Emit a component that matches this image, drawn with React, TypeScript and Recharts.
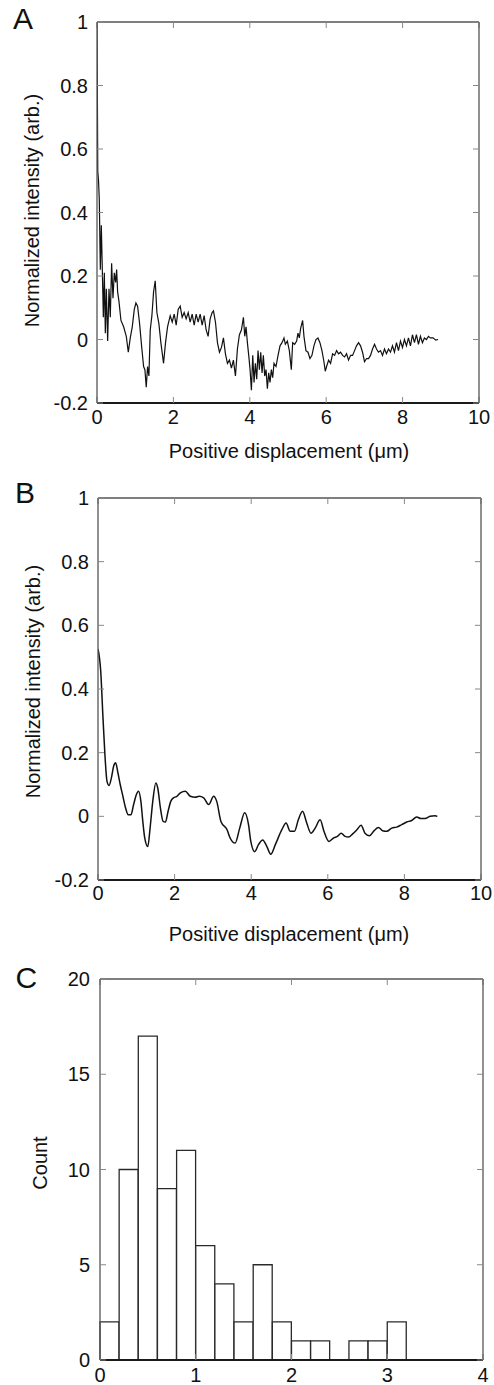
import React from 'react';
import { LineChart, Line, XAxis, YAxis, ComposedChart, Bar } from 'recharts';

const FONT = '"Liberation Sans", Arial, Helvetica, sans-serif';

// Panel A: raw profile
const positionA = [
  0, 0.02, 0.04, 0.06, 0.087, 0.113, 0.139, 0.166, 0.192, 0.218,
  0.244, 0.279, 0.314, 0.348, 0.383, 0.418, 0.453, 0.488, 0.514, 0.54,
  0.575, 0.627, 0.697, 0.767, 0.819, 0.871, 0.923, 0.976, 1.019, 1.063,
  1.115, 1.167, 1.22, 1.254, 1.289, 1.324, 1.359, 1.394, 1.437, 1.481,
  1.524, 1.568, 1.62, 1.672, 1.742, 1.794, 1.847, 1.916, 1.969, 2.021,
  2.073, 2.125, 2.178, 2.23, 2.282, 2.334, 2.387, 2.439, 2.491, 2.544,
  2.596, 2.648, 2.7, 2.753, 2.805, 2.857, 2.909, 2.962, 3.014, 3.049,
  3.101, 3.153, 3.206, 3.258, 3.31, 3.362, 3.415, 3.467, 3.519, 3.571,
  3.624, 3.676, 3.728, 3.78, 3.833, 3.868, 3.902, 3.937, 3.972, 4.007,
  4.042, 4.077, 4.111, 4.146, 4.181, 4.216, 4.251, 4.286, 4.321, 4.355,
  4.39, 4.425, 4.46, 4.495, 4.53, 4.564, 4.599, 4.634, 4.686, 4.739,
  4.791, 4.843, 4.895, 4.93, 4.983, 5.035, 5.087, 5.122, 5.174, 5.226,
  5.261, 5.296, 5.331, 5.383, 5.418, 5.47, 5.523, 5.575, 5.627, 5.679,
  5.732, 5.784, 5.836, 5.889, 5.941, 5.976, 6.01, 6.063, 6.115, 6.167,
  6.22, 6.272, 6.324, 6.376, 6.429, 6.481, 6.533, 6.585, 6.638, 6.69,
  6.742, 6.794, 6.847, 6.899, 6.951, 7.003, 7.056, 7.108, 7.16, 7.213,
  7.265, 7.317, 7.369, 7.422, 7.474, 7.526, 7.578, 7.631, 7.683, 7.735,
  7.787, 7.84, 7.892, 7.944, 7.997, 8.049, 8.101, 8.153, 8.206, 8.258,
  8.31, 8.362, 8.415, 8.467, 8.519, 8.571, 8.624, 8.676, 8.728, 8.798,
  8.868, 8.929,
];
const intensityA = [
  1.0, 0.53, 0.5, 0.44, 0.22, 0.36, 0.22, 0.07, 0.21, 0.02,
  0.16, -0.005, 0.16, 0.07, 0.24, 0.13, 0.21, 0.18, 0.22, 0.15,
  0.12, 0.06, 0.04, 0.01, -0.04, 0.005, 0.04, 0.095, 0.115, 0.105,
  0.05, -0.02, -0.085, -0.095, -0.15, -0.085, -0.115, 0.03, 0.075, 0.15,
  0.185, 0.085, 0.05, -0.01, -0.075, -0.01, 0.04, 0.075, 0.055, 0.08,
  0.045, 0.095, 0.105, 0.07, 0.085, 0.065, 0.085, 0.055, 0.08, 0.045,
  0.08, 0.055, 0.08, 0.045, 0.075, 0.03, 0.01, 0.065, 0.085, 0.09,
  0.055, -0.01, -0.04, -0.025, 0.005, -0.045, -0.075, -0.065, -0.09, -0.065,
  -0.115, -0.03, 0.015, 0.03, 0.07, 0.01, 0.04, -0.01, -0.05, -0.095,
  -0.16, -0.05, -0.135, -0.075, -0.125, -0.035, -0.095, -0.04, -0.105, -0.05,
  -0.115, -0.095, -0.155, -0.105, -0.135, -0.095, -0.12, -0.075, -0.085, -0.05,
  -0.02, -0.01, 0.005, -0.015, -0.005, -0.035, -0.095, -0.01, -0.015, -0.005,
  0.02, 0.005, 0.035, 0.06, 0.01, -0.035, -0.04, -0.06, -0.05, -0.02,
  0.0, 0.005, -0.01, -0.035, -0.07, -0.1, -0.085, -0.065, -0.075, -0.045,
  -0.05, -0.035, -0.045, -0.04, -0.05, -0.055, -0.045, -0.065, -0.05, -0.05,
  -0.035, -0.02, -0.01, -0.02, -0.04, -0.07, -0.06, -0.06, -0.05, -0.03,
  -0.015, -0.03, -0.04, -0.035, -0.05, -0.03, -0.045, -0.03, -0.04, -0.02,
  -0.04, -0.01, -0.035, -0.005, -0.025, 0, -0.02, 0.005, -0.02, 0.015,
  -0.01, 0.015, -0.015, 0.01, -0.01, 0.005, 0, 0.01, 0.005, 0.005,
  -0.002, 0,
];

// Panel B: smoothed profile
const positionB = [
  0, 0.07, 0.13, 0.18, 0.235, 0.29, 0.35, 0.41, 0.46, 0.52,
  0.58, 0.65, 0.72, 0.79, 0.86, 0.93, 1.0, 1.06, 1.12, 1.17,
  1.22, 1.3, 1.36, 1.43, 1.51, 1.56, 1.63, 1.7, 1.76, 1.83,
  1.9, 1.97, 2.05, 2.15, 2.28, 2.41, 2.54, 2.64, 2.76, 2.89,
  3.02, 3.1, 3.21, 3.37, 3.45, 3.58, 3.7, 3.83, 3.93, 3.99,
  4.09, 4.19, 4.3, 4.41, 4.51, 4.63, 4.8, 4.91, 5.02, 5.13,
  5.23, 5.34, 5.45, 5.56, 5.67, 5.8, 5.9, 6.03, 6.15, 6.25,
  6.35, 6.45, 6.54, 6.65, 6.76, 6.87, 6.97, 7.09, 7.21, 7.32,
  7.43, 7.54, 7.67, 7.8, 7.93, 8.06, 8.19, 8.32, 8.43, 8.54,
  8.67, 8.8, 8.86,
];
const intensityB = [
  0.526, 0.458, 0.31, 0.195, 0.11, 0.097, 0.121, 0.158, 0.168, 0.137,
  0.1, 0.063, 0.026, 0.005, 0.005, 0.037, 0.068, 0.079, 0.047, -0.016,
  -0.068, -0.095, -0.037, 0.047, 0.105, 0.089, 0.026, -0.016, -0.018, 0.016,
  0.047, 0.058, 0.062, 0.074, 0.079, 0.063, 0.06, 0.063, 0.058, 0.037,
  0.063, 0.047, -0.016, -0.042, -0.068, -0.084, -0.037, 0.011, -0.026, -0.079,
  -0.111, -0.089, -0.074, -0.095, -0.119, -0.089, -0.042, -0.021, -0.047, -0.047,
  -0.011, 0.016, -0.021, -0.053, -0.037, -0.011, -0.047, -0.079, -0.068, -0.063,
  -0.053, -0.063, -0.065, -0.055, -0.042, -0.028, -0.053, -0.061, -0.045, -0.035,
  -0.045, -0.047, -0.037, -0.034, -0.026, -0.018, -0.013, -0.002, -0.007, -0.007,
  0, 0.002, 0,
];

// Panel C: histogram (bin width 0.2)
const binStart = [0, 0.2, 0.4, 0.6, 0.8, 1.0, 1.2, 1.4, 1.6, 1.8, 2.0, 2.2, 2.4, 2.6, 2.8, 3.0, 3.2, 3.4, 3.6, 3.8];
const binCount = [2, 10, 17, 9, 11, 6, 4, 2, 5, 2, 1, 1, 0, 1, 1, 2, 0, 0, 0, 0];

const xTicksProfile = [0, 2, 4, 6, 8, 10];
const yTicksProfile = [-0.2, 0, 0.2, 0.4, 0.6, 0.8, 1];
const xTicksHist = [0, 1, 2, 3, 4];
const yTicksHist = [0, 5, 10, 15, 20];

const rowsA = positionA.map((x, i) => ({ x, y: intensityA[i] }));
const rowsB = positionB.map((x, i) => ({ x, y: intensityB[i] }));
const rowsC = binStart.map((s, i) => ({ bin: String(s), mid: s + 0.1, count: binCount[i] }));

const fmt = (v: number) => String(Number(v.toFixed(1)));
const blank = () => '';
const tickStyle = { fontSize: 20, fill: '#111', fontFamily: FONT };
const frame = { stroke: '#555', strokeWidth: 1.3 };
const bottomLine = { stroke: '#1a1a1a', strokeWidth: 2 };
const tl = { stroke: '#888', strokeWidth: 1 };

function Profile(props: {
  data: { x: number; y: number }[];
  top: number;
  height: number;
  leftW: number;
  rightW: number;
  curve: 'linear' | 'monotone';
  ylMargin: number;
  xMargin: number;
  sw: number;
}) {
  const { data, top, height, leftW, rightW, curve, ylMargin, xMargin, sw } = props;
  return (
    <div style={{ position: 'absolute', left: 0, top }}>
      <LineChart width={494} height={height} data={data} margin={{ top: 20, right: 0, bottom: 0, left: 0 }}>
        <XAxis
          xAxisId="b"
          dataKey="x"
          type="number"
          domain={[0, 10]}
          ticks={xTicksProfile}
          allowDataOverflow
          interval={0}
          height={40}
          tickSize={-6}
          tickMargin={xMargin}
          tick={tickStyle}
          axisLine={bottomLine}
          tickLine={tl}
        />
        <XAxis
          xAxisId="t"
          orientation="top"
          dataKey="x"
          type="number"
          domain={[0, 10]}
          ticks={xTicksProfile}
          allowDataOverflow
          interval={0}
          height={1}
          tickSize={-6}
          tick={tickStyle}
          tickFormatter={blank}
          axisLine={frame}
          tickLine={tl}
        />
        <YAxis
          yAxisId="l"
          type="number"
          domain={[-0.2, 1]}
          ticks={yTicksProfile}
          allowDataOverflow
          interval={0}
          width={leftW}
          tickSize={-6}
          tickMargin={ylMargin}
          tick={tickStyle}
          tickFormatter={fmt}
          axisLine={frame}
          tickLine={tl}
        />
        <YAxis
          yAxisId="r"
          orientation="right"
          type="number"
          domain={[-0.2, 1]}
          ticks={yTicksProfile}
          allowDataOverflow
          interval={0}
          width={rightW}
          tickSize={-6}
          tick={tickStyle}
          tickFormatter={blank}
          axisLine={frame}
          tickLine={tl}
        />
        <Line
          xAxisId="b"
          yAxisId="l"
          dataKey="y"
          type={curve}
          stroke="#111"
          strokeWidth={sw}
          dot={false}
          activeDot={false}
          isAnimationActive={false}
        />
      </LineChart>
    </div>
  );
}

function Histogram() {
  return (
    <div style={{ position: 'absolute', left: 0, top: 958 }}>
      <ComposedChart
        width={494}
        height={427}
        data={rowsC}
        margin={{ top: 20, right: 0, bottom: 0, left: 0 }}
        barCategoryGap={0}
        barGap={0}
      >
        <XAxis
          xAxisId="num"
          dataKey="mid"
          type="number"
          domain={[0, 4]}
          ticks={xTicksHist}
          allowDataOverflow
          interval={0}
          height={25}
          tickSize={-6}
          tickMargin={14}
          tick={tickStyle}
          axisLine={bottomLine}
          tickLine={tl}
        />
        <XAxis xAxisId="bins" dataKey="bin" type="category" hide height={0} />
        <XAxis
          xAxisId="top"
          orientation="top"
          dataKey="mid"
          type="number"
          domain={[0, 4]}
          ticks={xTicksHist}
          allowDataOverflow
          interval={0}
          height={1}
          tickSize={-6}
          tick={tickStyle}
          tickFormatter={blank}
          axisLine={frame}
          tickLine={tl}
        />
        <YAxis
          yAxisId="l"
          type="number"
          domain={[0, 20]}
          ticks={yTicksHist}
          allowDataOverflow
          interval={0}
          width={100}
          tickSize={-6}
          tickMargin={16}
          tick={tickStyle}
          axisLine={frame}
          tickLine={tl}
        />
        <YAxis
          yAxisId="r"
          orientation="right"
          type="number"
          domain={[0, 20]}
          ticks={yTicksHist}
          allowDataOverflow
          interval={0}
          width={11}
          tickSize={-6}
          tick={tickStyle}
          tickFormatter={blank}
          axisLine={frame}
          tickLine={tl}
        />
        <Bar
          xAxisId="bins"
          yAxisId="l"
          dataKey="count"
          fill="#ffffff"
          stroke="#2a2a2a"
          strokeWidth={1.3}
          isAnimationActive={false}
        />
      </ComposedChart>
    </div>
  );
}

export default function App() {
  return (
    <div
      style={{
        position: 'absolute',
        left: 0,
        top: 0,
        width: 494,
        height: 1385,
        background: '#fff',
        fontFamily: FONT,
        overflow: 'hidden',
      }}
    >
      <Profile data={rowsA} top={1} height={442} leftW={97} rightW={15} curve="linear" ylMargin={15} xMargin={13} sw={1.2} />
      <Profile data={rowsB} top={477} height={443} leftW={98} rightW={13} curve="monotone" ylMargin={15} xMargin={12} sw={1.5} />
      <Histogram />
      <svg
        width={494}
        height={1385}
        style={{ position: 'absolute', left: 0, top: 0, pointerEvents: 'none' }}
        fontFamily={FONT}
        fill="#111"
      >
        <text x={13} y={29} fontSize={30}>A</text>
        <text x={15} y={503} fontSize={30}>B</text>
        <text x={15.5} y={988} fontSize={30}>C</text>
        <text x={289} y={458} fontSize={20} textAnchor="middle">Positive displacement (μm)</text>
        <text x={289} y={941} fontSize={20} textAnchor="middle">Positive displacement (μm)</text>
        <text transform="translate(38.5,210.5) rotate(-90)" fontSize={20} textAnchor="middle">Normalized intensity (arb.)</text>
        <text transform="translate(39.5,681.5) rotate(-90)" fontSize={20} textAnchor="middle">Normalized intensity (arb.)</text>
        <text transform="translate(47,1163) rotate(-90)" fontSize={20} textAnchor="middle">Count</text>
      </svg>
    </div>
  );
}
